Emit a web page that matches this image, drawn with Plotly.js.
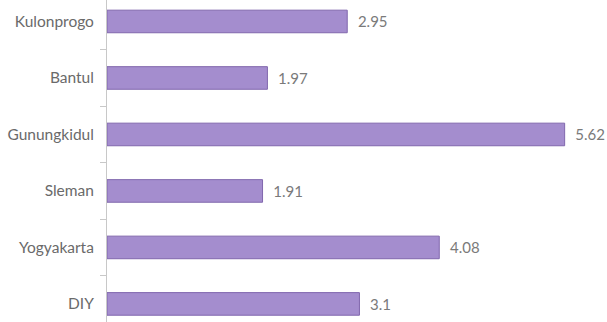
<!DOCTYPE html>
<html>
<head>
<meta charset="utf-8">
<script src="https://cdn.plot.ly/plotly-3.0.1.min.js"></script>
<style>html,body{margin:0;padding:0;background:#fff;}#chart{width:607px;height:322px;}</style>
</head>
<body>
<div id="chart"></div>
<script>
// Categories listed bottom to top
var categories = ["DIY", "Yogyakarta", "Sleman", "Gunungkidul", "Bantul", "Kulonprogo"];
var values = [3.1, 4.08, 1.91, 5.62, 1.97, 2.95];
var valueLabels = ["3.1", "4.08", "1.91", "5.62", "1.97", "2.95"];

var trace = {
  type: "bar",
  orientation: "h",
  y: categories,
  x: values,
  text: valueLabels.map(function(s){ return "\u00a0\u00a0" + s; }),
  textposition: "outside",
  cliponaxis: false,
  textfont: {family: "Lato, 'Open Sans', sans-serif", size: 15, color: "#7a7a7a"},
  marker: {color: "#a48dce", line: {color: "#8067ad", width: 1}},
  hoverinfo: "none"
};

var layout = {
  width: 607, height: 322,
  margin: {l: 107, r: 0, t: 0, b: 0},
  paper_bgcolor: "#ffffff",
  plot_bgcolor: "#ffffff",
  showlegend: false,
  bargap: 0.6,
  xaxis: {range: [0, 6.14], visible: false, fixedrange: true},
  yaxis: {
    type: "category",
    range: [-0.32, 5.38],
    showline: true, linecolor: "#c8c8c8", linewidth: 1,
    ticks: "outside", ticklen: 6, tickcolor: "#c8c8c8",
    tickson: "boundaries",
    ticklabelstandoff: 9,
    showgrid: false, zeroline: false,
    tickfont: {family: "Lato, 'Open Sans', sans-serif", size: 15.5, color: "#6a6a6a"}
  }
};

Plotly.newPlot("chart", [trace], layout, {displayModeBar: false, staticPlot: true});
</script>
</body>
</html>
